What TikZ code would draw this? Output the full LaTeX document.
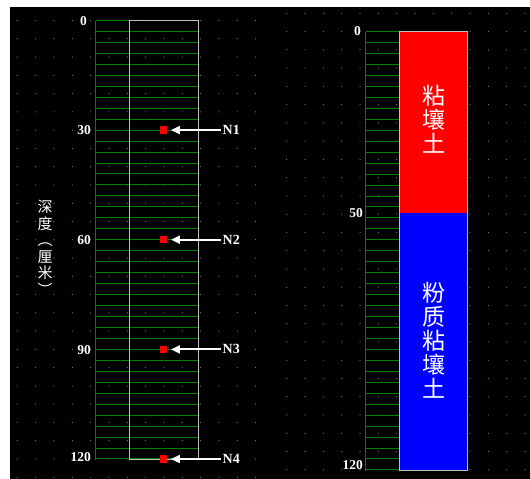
\documentclass[tikz,border=0pt]{standalone}
\usepackage{fontspec}
\setmainfont{Liberation Serif}
\newfontfamily\cjk{Noto Sans CJK SC}
\usetikzlibrary{arrows.meta}

\begin{document}
\begin{tikzpicture}[x=1pt,y=-1pt,
	grid/.style={green!50!black, line width=1.4pt},
	frame/.style={draw=lightgray, line width=1.3pt},
	depth/.style={text=white, anchor=east, inner sep=0pt,
		font=\fontsize{13.5}{13.5}\selectfont\bfseries},
	probe/.style={fill=red, minimum size=7.5pt, inner sep=0pt},
	tag/.style={text=white, anchor=west, inner sep=0pt,
		font=\fontsize{14}{14}\selectfont\bfseries},
	pointer/.style={white, line width=2pt, -{Triangle[length=9pt,width=8pt]},
		shorten <=2pt, shorten >=3.5pt},
	soil/.style={text=white, align=center, inner sep=0pt,
		font=\cjk\fontsize{23}{24}\selectfont}]
	\useasboundingbox (0,0) rectangle (530,479);
	\fill[white] (0,0) rectangle (530,479);
	\fill[black] (10,7.3) rectangle (530,479);
	
	\foreach \i in {0,...,13}
		\foreach \j in {0,...,25}{
			\fill[gray] (17.3+18.33*\i,20.5+18.27*\j) circle[radius=0.6pt];
			\fill[gray] (286.7+18.33*\i,13.3+18.26*\j) circle[radius=0.6pt];
		}
	
	% left column, 3.654 px per cm
	\foreach \k [evaluate=\k as \y using {floor(20.5+10.962*\k)+0.5}] in {0,...,40}
		\draw[grid] (95.5,\y) -- (198.5,\y);
	\draw[grid] (95.5,20.5) -- (95.5,459.5);
	\draw[frame] (129.5,20.5) rectangle (198.5,459.5);
	
	\foreach \d/\x/\y in {0/87/20.7, 30/91/130, 60/91/240, 90/91/350, 120/91/457}
		\node[depth] at (\x,\y) {\d};
	
	\node[text=white, align=center, inner sep=0pt,
		font=\cjk\fontsize{15}{16.5}\selectfont] (Axis) at (45,248)
		{深\\度\\︵\\厘\\米\\︶};
	
	\foreach \n/\y in {1/130.1, 2/239.7, 3/349.4, 4/459}{
		\node[probe] (S\n) at (163.5,\y) {};
		\node[tag] (N\n) at (222.5,\y) {N\n};
		\draw[pointer] (N\n.west) -- (S\n.east);
	}
	
	% right column, 3.652 px per cm
	\foreach \k [evaluate=\k as \y using {floor(31.7+10.956*\k)+0.5}] in {0,...,40}
		\draw[grid] (365.5,\y) -- (399.5,\y);
	\draw[grid] (365.5,31.5) -- (365.5,470.5);
	\fill[red] (399.5,31.5) rectangle (467.5,212.5);
	\fill[blue] (399.5,212.5) rectangle (467.5,470.5);
	\draw[frame] (399.5,31.5) rectangle (467.5,470.5);
	
	\foreach \d/\x/\y in {0/361/31.5, 50/363/212.8, 120/363/465}
		\node[depth] at (\x,\y) {\d};
	
	\node[soil] (Clay) at (433.5,119) {粘\\壤\\土};
	\node[soil] (Silt) at (433.5,340) {粉\\质\\粘\\壤\\土};
\end{tikzpicture}
\end{document}
